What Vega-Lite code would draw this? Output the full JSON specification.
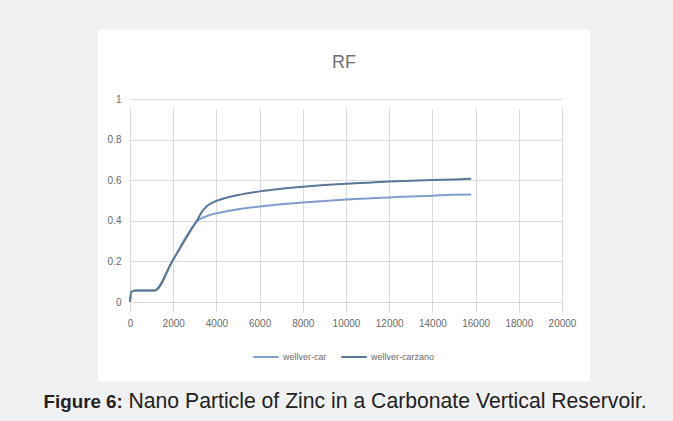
{
  "$schema": "https://vega.github.io/schema/vega-lite/v6.json",
  "autosize": {"type": "none"},
  "width": 492,
  "height": 351,
  "padding": {"left": 98, "top": 30, "right": 83, "bottom": 40},
  "background": "#f0f1f3",
  "title": {
    "text": "RF",
    "fontSize": 18,
    "font": "Liberation Sans",
    "fontWeight": "normal",
    "color": "#6f6f6f",
    "anchor": "middle",
    "offset": -42
  },
  "data": {
    "values": [
      {"t": 0, "rf": 0, "series": "wellver-car"},
      {"t": 60, "rf": 0.05, "series": "wellver-car"},
      {"t": 250, "rf": 0.057, "series": "wellver-car"},
      {"t": 1150, "rf": 0.057, "series": "wellver-car"},
      {"t": 1950, "rf": 0.2, "series": "wellver-car"},
      {"t": 3000, "rf": 0.385, "series": "wellver-car"},
      {"t": 3150, "rf": 0.403, "series": "wellver-car"},
      {"t": 3300, "rf": 0.412, "series": "wellver-car"},
      {"t": 3600, "rf": 0.425, "series": "wellver-car"},
      {"t": 4000, "rf": 0.437, "series": "wellver-car"},
      {"t": 4500, "rf": 0.448, "series": "wellver-car"},
      {"t": 5000, "rf": 0.457, "series": "wellver-car"},
      {"t": 6000, "rf": 0.47, "series": "wellver-car"},
      {"t": 7000, "rf": 0.481, "series": "wellver-car"},
      {"t": 8000, "rf": 0.49, "series": "wellver-car"},
      {"t": 9000, "rf": 0.498, "series": "wellver-car"},
      {"t": 10000, "rf": 0.505, "series": "wellver-car"},
      {"t": 11000, "rf": 0.51, "series": "wellver-car"},
      {"t": 12000, "rf": 0.515, "series": "wellver-car"},
      {"t": 13000, "rf": 0.52, "series": "wellver-car"},
      {"t": 14000, "rf": 0.524, "series": "wellver-car"},
      {"t": 15000, "rf": 0.528, "series": "wellver-car"},
      {"t": 15800, "rf": 0.53, "series": "wellver-car"},
      {"t": 0, "rf": 0, "series": "wellver-carzano"},
      {"t": 60, "rf": 0.05, "series": "wellver-carzano"},
      {"t": 250, "rf": 0.057, "series": "wellver-carzano"},
      {"t": 1150, "rf": 0.057, "series": "wellver-carzano"},
      {"t": 1950, "rf": 0.2, "series": "wellver-carzano"},
      {"t": 3000, "rf": 0.385, "series": "wellver-carzano"},
      {"t": 3150, "rf": 0.41, "series": "wellver-carzano"},
      {"t": 3300, "rf": 0.44, "series": "wellver-carzano"},
      {"t": 3450, "rf": 0.46, "series": "wellver-carzano"},
      {"t": 3600, "rf": 0.475, "series": "wellver-carzano"},
      {"t": 3800, "rf": 0.488, "series": "wellver-carzano"},
      {"t": 4000, "rf": 0.498, "series": "wellver-carzano"},
      {"t": 4500, "rf": 0.515, "series": "wellver-carzano"},
      {"t": 5000, "rf": 0.527, "series": "wellver-carzano"},
      {"t": 6000, "rf": 0.545, "series": "wellver-carzano"},
      {"t": 7000, "rf": 0.558, "series": "wellver-carzano"},
      {"t": 8000, "rf": 0.568, "series": "wellver-carzano"},
      {"t": 9000, "rf": 0.576, "series": "wellver-carzano"},
      {"t": 10000, "rf": 0.583, "series": "wellver-carzano"},
      {"t": 11000, "rf": 0.588, "series": "wellver-carzano"},
      {"t": 12000, "rf": 0.593, "series": "wellver-carzano"},
      {"t": 13000, "rf": 0.597, "series": "wellver-carzano"},
      {"t": 14000, "rf": 0.601, "series": "wellver-carzano"},
      {"t": 15000, "rf": 0.604, "series": "wellver-carzano"},
      {"t": 15800, "rf": 0.607, "series": "wellver-carzano"}
    ]
  },
  "mark": {"type": "line", "strokeWidth": 2, "interpolate": "monotone"},
  "encoding": {
    "x": {
      "field": "t",
      "type": "quantitative",
      "scale": {"domain": [0, 20000], "range": [32, 464], "nice": false, "zero": false},
      "axis": {
        "values": [0, 2000, 4000, 6000, 8000, 10000, 12000, 14000, 16000, 18000, 20000],
        "format": "d",
        "orient": "bottom",
        "offset": -79,
        "ticks": false,
        "labelFlush": false,
        "labelOverlap": false,
        "domainColor": "#d9d9d9",
        "gridColor": "#d9d9d9",
        "labelPadding": 16,
        "labelFontSize": 10,
        "labelColor": "#6a6a6a",
        "labelFont": "Liberation Sans",
        "title": "Nano Particle of Zinc in a Carbonate Vertical Reservoir.",
        "titleFont": "Liberation Sans",
        "titleFontSize": 21.2,
        "titleFontWeight": "normal",
        "titleColor": "#222222",
        "titleAlign": "left",
        "titleAnchor": "start",
        "titleBaseline": "alphabetic",
        "titleX": 30,
        "titleY": 105
      }
    },
    "y": {
      "field": "rf",
      "type": "quantitative",
      "scale": {"domain": [0, 1], "range": [272, 69], "nice": false},
      "axis": {
        "values": [0, 0.2, 0.4, 0.6, 0.8, 1],
        "format": "~g",
        "orient": "left",
        "offset": -32,
        "ticks": false,
        "domain": false,
        "gridColor": "#d9d9d9",
        "labelPadding": 9,
        "labelFontSize": 10,
        "labelColor": "#6a6a6a",
        "labelFont": "Liberation Sans",
        "title": "Figure 6:",
        "titleFont": "Liberation Sans",
        "titleFontSize": 18.8,
        "titleFontWeight": "bold",
        "titleColor": "#222222",
        "titleAngle": 0,
        "titleAlign": "left",
        "titleBaseline": "alphabetic",
        "titleX": -87,
        "titleY": 377
      }
    },
    "color": {
      "field": "series",
      "type": "nominal",
      "scale": {"domain": ["wellver-car", "wellver-carzano"], "range": ["#819cce", "#5a7797"]},
      "legend": {
        "title": null,
        "orient": "none",
        "direction": "horizontal",
        "legendX": 154,
        "legendY": 313,
        "symbolType": "stroke",
        "symbolSize": 650,
        "symbolStrokeWidth": 2,
        "labelFontSize": 9,
        "labelColor": "#6a6a6a",
        "labelFont": "Liberation Sans",
        "columnPadding": 10,
        "labelOffset": 3
      }
    }
  },
  "config": {
    "view": {"fill": "white", "stroke": null}
  }
}
